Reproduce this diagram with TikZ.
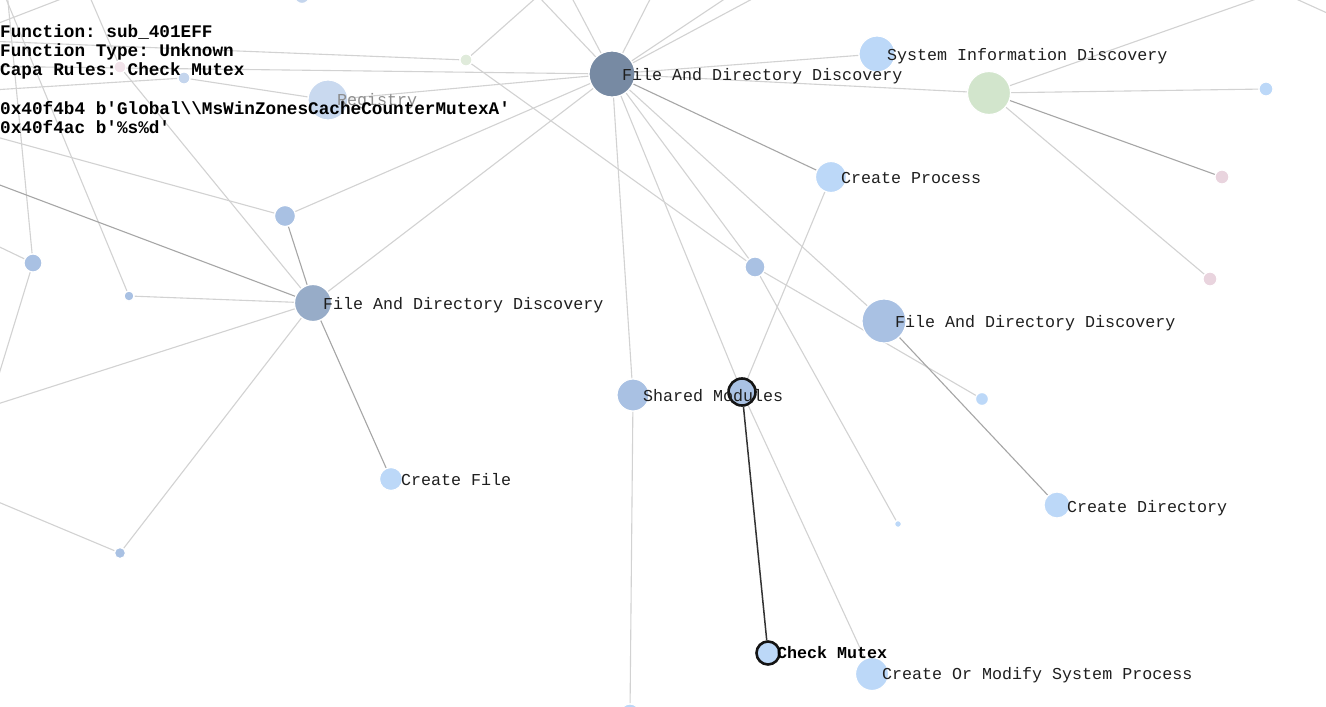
\documentclass[tikz,border=0pt]{standalone}
\usepackage{fontspec}
\newfontfamily\lblfont{Liberation Mono}[PunctuationSpace=WordSpace]
\usetikzlibrary{backgrounds}
\definecolor{nodeDark}{HTML}{778AA3}
\definecolor{nodeR}{HTML}{97ACC8}
\definecolor{nodeMid}{HTML}{A9C1E3}
\definecolor{nodeLight}{HTML}{BCD8F8}
\definecolor{nodeGreen}{HTML}{D2E5CC}
\definecolor{nodePink}{HTML}{E9D4DE}
\definecolor{fadeBlue}{HTML}{C9D9EF}
\definecolor{fadeBlueB}{HTML}{C4D5ED}
\definecolor{fadeGreen}{HTML}{E0EBDB}
\definecolor{fadePink}{HTML}{F2E3EA}
\definecolor{lineL}{HTML}{D2D2D2}
\definecolor{lineD}{HTML}{A6A6A6}
\tikzset{
  nd/.style={circle, inner sep=0pt, draw=white, line width=1.2pt},
  hl/.style={draw=black!92, line width=2.6pt},
  lbl/.style={font=\lblfont\frenchspacing\fontsize{16.67}{18}\selectfont, anchor=base west, inner sep=0pt, text=black!88},
  info/.style={font=\lblfont\frenchspacing\bfseries\fontsize{17.7}{19}\selectfont, anchor=base west, inner sep=0pt, text=black},
  ln/.style={draw=lineL, line width=1.1pt},
  lnd/.style={draw=lineD, line width=1.1pt},
  lnk/.style={draw=black!80, line width=1.5pt},
}
\begin{document}
\begin{tikzpicture}[x=1pt,y=-1pt]
\useasboundingbox (0,0) rectangle (1326,707);
% ---------- nodes ----------
\node[nd, fill=nodeDark,  minimum size=46pt] (A) at (612,74) {};
\node[nd, fill=nodeLight, minimum size=36pt] (B) at (877,54) {};
\node[nd, fill=nodeGreen, minimum size=43pt] (C) at (989,93) {};
\node[nd, fill=nodeLight, minimum size=14pt] (D) at (1266,89) {};
\node[nd, fill=nodePink,  minimum size=14pt] (E) at (1222,177) {};
\node[nd, fill=nodePink,  minimum size=14pt] (F) at (1210,279) {};
\node[nd, fill=nodeLight, minimum size=31pt] (G) at (831,177) {};
\node[nd, fill=nodeMid,   minimum size=20pt] (H) at (755,267) {};
\node[nd, fill=nodeMid,   minimum size=44pt] (I) at (884,321) {};
\node[nd, fill=nodeLight, minimum size=13pt] (J) at (982,399) {};
\node[nd, fill=nodeLight, minimum size=26pt] (K) at (1057,505) {};
\node[nd, fill=nodeLight, minimum size=7pt]  (L) at (898,524) {};
\node[nd, fill=nodeMid,   minimum size=32pt] (M) at (633,395) {};
\node[nd, fill=nodeMid,   minimum size=27pt, hl] (N) at (742,392) {};
\node[nd, fill=nodeLight, minimum size=23pt, hl] (O) at (768,653) {};
\node[nd, fill=nodeLight, minimum size=33pt] (P) at (872,674) {};
\node[nd, fill=nodeLight, minimum size=20pt] (Q) at (630,714) {};
\node[nd, fill=nodeR,     minimum size=37pt] (R) at (313,303) {};
\node[nd, fill=nodeMid,   minimum size=21pt] (S) at (285,216) {};
\node[nd, fill=nodeMid,   minimum size=18pt] (T) at (33,263) {};
\node[nd, fill=nodeMid,   minimum size=10pt] (U) at (129,296) {};
\node[nd, fill=nodeMid,   minimum size=11pt] (V) at (120,553) {};
\node[nd, fill=nodeLight, minimum size=23pt] (W) at (391,479) {};
\node[nd, fill=fadeBlue,  minimum size=40pt] (X) at (328,100) {};
\node[nd, fill=fadeGreen, minimum size=12pt] (Y) at (466,60) {};
\node[nd, fill=fadePink,  minimum size=12pt] (Z) at (120,67) {};
\node[nd, fill=fadeBlueB, minimum size=12pt] (AA) at (184,78) {};
\node[nd, fill=fadeBlueB, minimum size=15pt] (TP) at (302,-4) {};
% ---------- off-canvas ends ----------
\coordinate (oL1) at (-40,66);
\coordinate (oAA) at (-40,92);
\coordinate (oS) at (-40,127);
\coordinate (oR) at (-40,170);
\coordinate (oR2) at (-40,416);
\coordinate (oV) at (-40,486);
\coordinate (oT1) at (-40,228);
\coordinate (oT2) at (-15,420);
\coordinate (oT3) at (4,-40);
\coordinate (oU) at (-10,-40);
\coordinate (oY1) at (-40,40);
\coordinate (oTop) at (538,-4);
\coordinate (oZ) at (74,-40);
\coordinate (oA2) at (552,-40);
\coordinate (oA3) at (670,-40);
\coordinate (oA4) at (783,-40);
\coordinate (oA5) at (825,-40);
\coordinate (oC) at (1367,-40);
\coordinate (c1) at (-40,38);
\coordinate (c2) at (100,-16);
\coordinate (c3) at (1210,-40);
\coordinate (c4) at (1400,46);
% ---------- connectors ----------
\begin{pgfonlayer}{background}
\fill[white] (0,0) rectangle (1326,707);
\draw[ln] (A)--(B);
\draw[ln] (A)--(C);
\draw[ln] (A)--(H);
\draw[ln] (A)--(I);
\draw[ln] (A)--(M);
\draw[ln] (A)--(N);
\draw[ln] (A)--(S);
\draw[ln] (A)--(R);
\draw[ln] (A)--(X);
\draw[ln] (A)--(oL1);
\draw[ln] (A)--(oTop);
\draw[ln] (A)--(oA2);
\draw[ln] (A)--(oA3);
\draw[ln] (A)--(oA4);
\draw[ln] (A)--(oA5);
\draw[ln] (C)--(D);
\draw[ln] (C)--(F);
\draw[ln] (C)--(oC);
\draw[ln] (G)--(N);
\draw[ln] (H)--(J);
\draw[ln] (H)--(L);
\draw[ln] (H)--(Y);
\draw[ln] (N)--(P);
\draw[ln] (M)--(Q);
\draw[ln] (R)--(Z);
\draw[ln] (R)--(U);
\draw[ln] (R)--(V);
\draw[ln] (R)--(oR2);
\draw[ln] (S)--(oS);
\draw[ln] (T)--(oT1);
\draw[ln] (T)--(oT2);
\draw[ln] (T)--(oT3);
\draw[ln] (U)--(oU);
\draw[ln] (V)--(oV);
\draw[ln] (X)--(AA);
\draw[ln] (AA)--(oAA);
\draw[ln] (Y)--(oY1);
\draw[ln] (Y)--(oTop);
\draw[ln] (Z)--(oZ);
\draw[ln] (c1)--(c2);
\draw[ln] (c3)--(c4);
\draw[lnd] (A)--(G);
\draw[lnd] (R)--(S);
\draw[lnd] (R)--(W);
\draw[lnd] (I)--(K);
\draw[lnd] (C)--(E);
\draw[lnd] (R)--(oR);
\draw[lnk] (N)--(O);
\end{pgfonlayer}
% ---------- labels ----------
\node[lbl] (lA) at (622,80) {File And Directory Discovery};
\node[lbl] (lB) at (887,60) {System Information Discovery};
\node[lbl] (lG) at (841,183) {Create Process};
\node[lbl] (lI) at (895,327) {File And Directory Discovery};
\node[lbl] (lR) at (323,309) {File And Directory Discovery};
\node[lbl] (lM) at (643,401) {Shared Modules};
\node[lbl] (lW) at (401,485) {Create File};
\node[lbl] (lK) at (1067,512) {Create Directory};
\node[lbl] (lP) at (882,679) {Create Or Modify System Process};
\node[lbl, font=\lblfont\frenchspacing\bfseries\fontsize{16.67}{18}\selectfont, text=black] (lO) at (777,658) {Check Mutex};
\node[lbl, text=black!45] (lX) at (337,105) {Registry};
% ---------- info text ----------
\node[info] (i1) at (0,37) {Function: sub\_401EFF};
\node[info] (i2) at (0,56) {Function Type: Unknown};
\node[info] (i3) at (0,75.5) {Capa Rules: Check Mutex};
\node[info] (i4) at (0,114) {0x40f4b4 b'Global\textbackslash\textbackslash MsWinZonesCacheCounterMutexA'};
\node[info] (i5) at (0,133) {0x40f4ac b'\%s\%d'};
\end{tikzpicture}
\end{document}
